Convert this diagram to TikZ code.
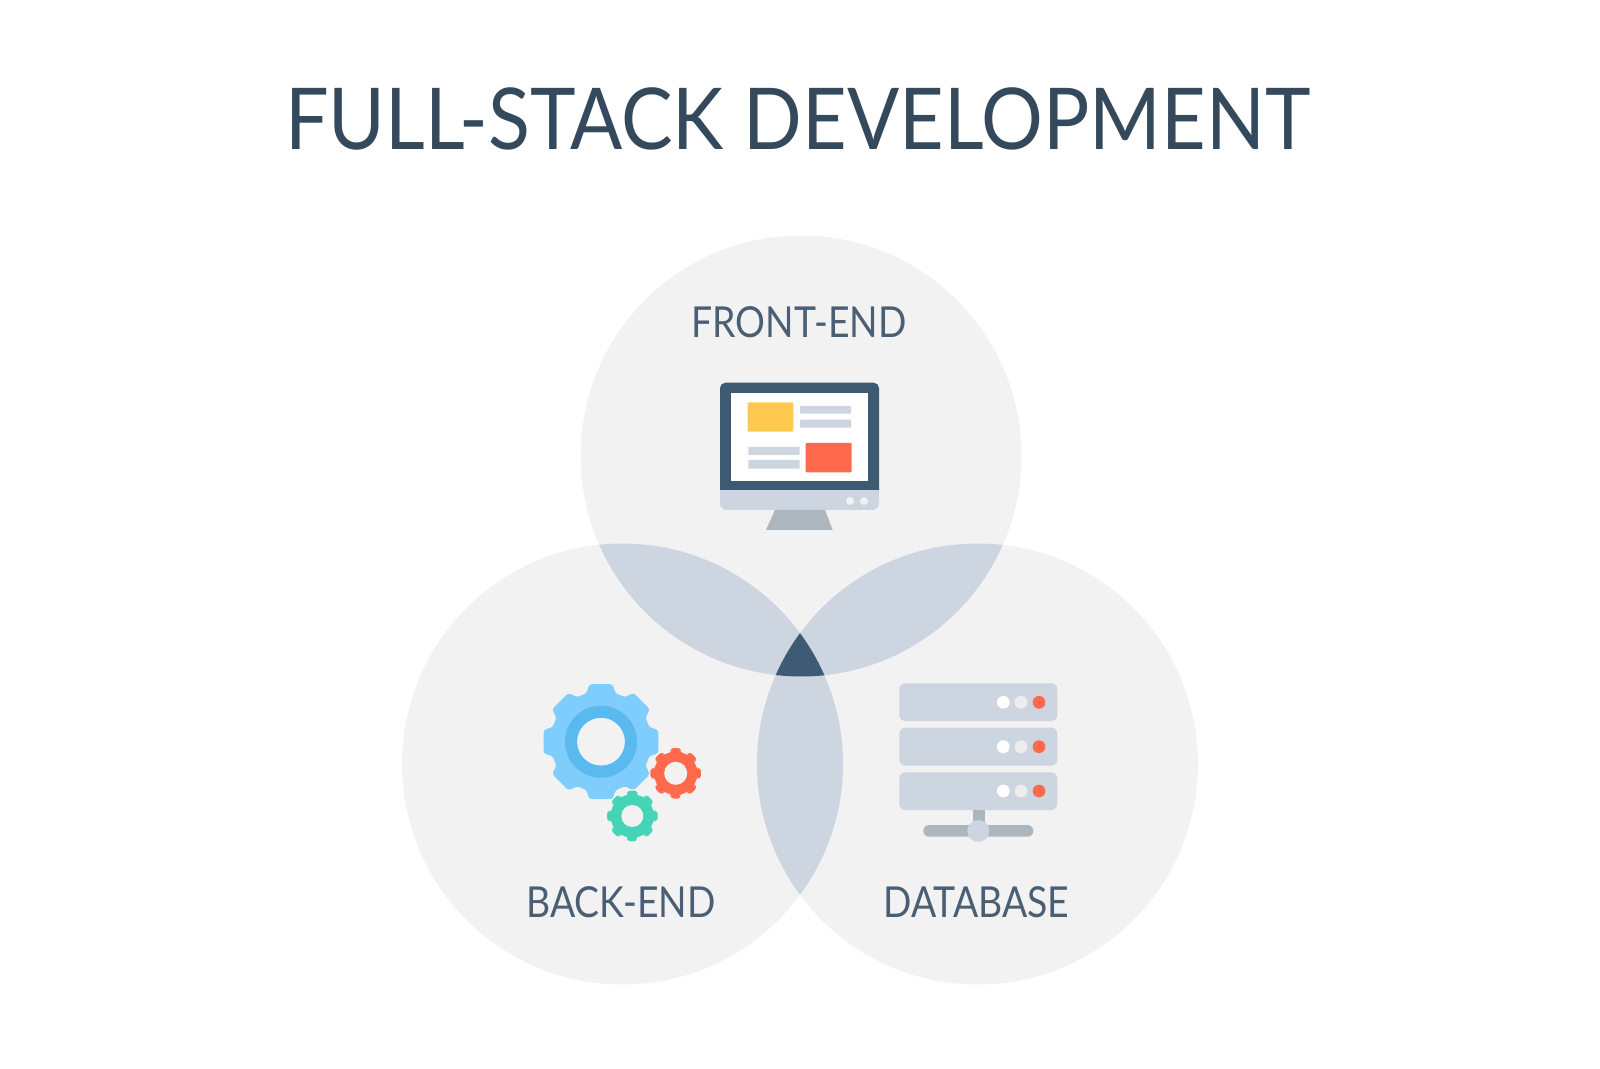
\documentclass[tikz,border=0pt]{standalone}
\usepackage{fontspec}
\setmainfont{Lato}
\newfontfamily\titlefont{Lato}[FakeStretch=0.905]
\newfontfamily\labelfont{Lato}[FakeStretch=0.875]
\definecolor{ink}{HTML}{34495B}
\definecolor{labelink}{HTML}{4A5F73}
\definecolor{disc}{HTML}{F2F2F2}
\definecolor{lens}{HTML}{CDD6E0}
\definecolor{core}{HTML}{3F5B73}
\definecolor{frame}{HTML}{3E5A72}
\definecolor{standc}{HTML}{ABB6BE}
\definecolor{sun}{HTML}{FFC94F}
\definecolor{coral}{HTML}{FF6A4D}
\definecolor{sky}{HTML}{7FCDFD}
\definecolor{skyd}{HTML}{5AB9EE}
\definecolor{mint}{HTML}{45D4B5}
\newcommand{\gear}[9]{% x y outer root hole teeth colour halo corner
  \begin{scope}[shift={(#1,#2)}]
    \pgfmathsetmacro{\st}{360/#6}
    \pgfmathsetmacro{\hw}{\st*0.25}
    \pgfmathsetmacro{\rw}{\st*0.36}
    \path[fill=#7,draw=#8,line width=0.9pt,rounded corners=#9]
      (90-\hw:#3)
      \foreach \i in {1,...,#6}{
        -- ({90-\st*(\i-1)-\hw}:#3)
        -- ({90-\st*(\i-1)-\rw}:#4)
        -- ({90-\st*\i+\rw}:#4)
        -- ({90-\st*\i+\hw}:#3)
      } -- cycle;
    \fill[disc] (0,0) circle (#5);
  \end{scope}}
\tikzset{
  x=0.75pt,y=-0.75pt,
  title/.style={font=\titlefont\fontsize{64}{64}\selectfont,text=ink,anchor=base,inner sep=0pt},
  lab/.style={font=\labelfont\fontsize{32}{32}\selectfont,text=labelink,anchor=base,inner sep=0pt},
  bar/.style={fill=lens,rounded corners=0.5pt},
  rack/.style={fill=lens,rounded corners=4.5pt},
}
\begin{document}
\begin{tikzpicture}
\useasboundingbox (0,0) rectangle (1600,1069);
\fill[white] (0,0) rectangle (1600,1069);
\def\rr{220.5}
\coordinate (T) at (801,456);
\coordinate (L) at (622.5,764);
\coordinate (R) at (977.5,764);
% discs
\fill[disc] (T) circle (\rr);
\fill[disc] (L) circle (\rr);
\fill[disc] (R) circle (\rr);
% pairwise overlaps
\begin{scope}\clip (T) circle (\rr);\fill[lens] (L) circle (\rr);\fill[lens] (R) circle (\rr);\end{scope}
\begin{scope}\clip (L) circle (\rr);\fill[lens] (R) circle (\rr);\end{scope}
% triple overlap
\begin{scope}\clip (T) circle (\rr);\clip (L) circle (\rr);\fill[core] (R) circle (\rr);\end{scope}
% title and labels
\node[title] (ttl) at (797.5,150) {FULL-STACK DEVELOPMENT};
\node[lab] (fe) at (799,337.8) {FRONT-END};
\node[lab] (be) at (621,917.4) {BACK-END};
\node[lab] (db) at (976.5,917.4) {DATABASE};
% monitor
\fill[lens,rounded corners=5pt] (720,480) rectangle (879,510);
\fill[frame] (720,490) [rounded corners=4pt] -- (720,382.7) -- (879,382.7) [sharp corners] -- (879,490) -- cycle;
\fill[white] (730.7,392.7) rectangle (868.3,481);
\fill[standc] (775,510) -- (825,510) -- (832.7,530) -- (766,530) -- cycle;
\fill[disc] (850,501) circle (4) (864,501) circle (4);
\fill[sun,rounded corners=0.7pt] (747.7,402.3) rectangle (793.3,431.7);
\fill[coral,rounded corners=0.7pt] (805.7,443) rectangle (851.7,472.3);
\fill[bar] (800,406) rectangle (851,413.7);
\fill[bar] (800,419.7) rectangle (851,427.7);
\fill[bar] (748.3,447) rectangle (799.7,455);
\fill[bar] (748.3,460) rectangle (799.7,468.7);
% gears
\gear{601}{741.7}{58}{50}{24}{8}{sky}{sky}{2pt}
\fill[skyd,even odd rule] (601,741.7) circle (36) circle (24);
\gear{675.7}{773.3}{26.5}{22.5}{11.5}{8}{coral}{disc}{2.2pt}
\gear{632.3}{816}{26.5}{22.5}{11}{8}{mint}{disc}{2.2pt}
% database
\foreach \a/\b/\d in {683.3/721/702.3,727.7/765.7/746.7,772.3/810/791}{
  \fill[rack] (899.3,\a) rectangle (1057.3,\b);
  \fill[white] (1003.3,\d) circle (6.4);
  \fill[black!7] (1021,\d) circle (6.4);
  \fill[coral] (1039,\d) circle (6.4);
}
\fill[standc] (973.3,810) rectangle (985,830);
\fill[standc,rounded corners=4.3pt] (923.3,825) rectangle (1033.3,836.7);
\fill[lens] (978.3,831) circle (11);
\end{tikzpicture}
\end{document}
